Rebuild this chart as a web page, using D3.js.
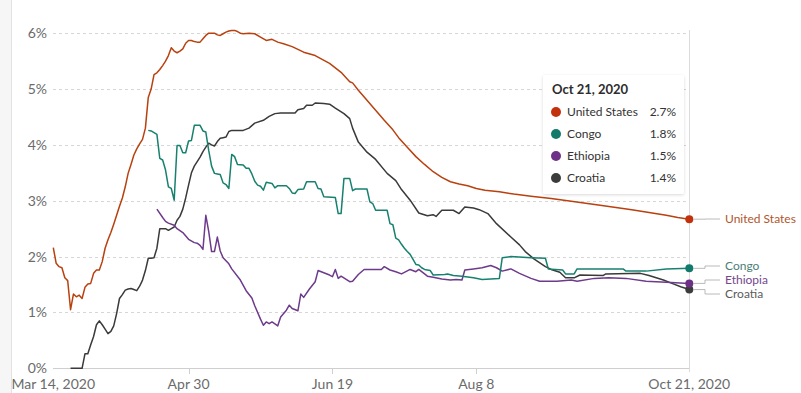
<!DOCTYPE html>
<html>
<head>
<meta charset="utf-8">
<script src="https://cdn.jsdelivr.net/npm/d3@7"></script>
<style>
  body { margin: 0; background: #fff; }
  svg { display: block; font-family: Lato, "Open Sans", sans-serif; }
</style>
</head>
<body>
<div id="chart"></div>
<script>
// Case fatality rate. x = days since Mar 14, 2020
const startDate = new Date(2020, 2, 14);
const endDate   = new Date(2020, 9, 21);

const usDays = [0,1,2,3,4,5,6,7,8,9,10,11,12,13,14,15,16,17,18,19,20,21,22,23,24,25,26,27,28,29,30,31,32,33,34,35,36,37,38,39,40,41,42,43,44,45,46,47,48,49,50,51,52,53,54,55,56,57,58,59,60,61,62,63,64,65,66,68,70,72,74,76,78,80,83,87,91,96,100,103,104,106,109,112,115,118,120,123,126,129,132,135,138,141,144,147,150,155,160,166,173,180,190,201,207,213,217,221];
const usVals = [2.16,1.88,1.82,1.80,1.62,1.57,1.05,1.33,1.28,1.31,1.25,1.45,1.51,1.52,1.70,1.76,1.76,1.91,2.15,2.30,2.43,2.58,2.74,2.90,3.05,3.25,3.49,3.65,3.82,3.93,4.02,4.10,4.30,4.85,5.00,5.26,5.29,5.35,5.42,5.50,5.60,5.74,5.68,5.65,5.68,5.72,5.82,5.87,5.87,5.85,5.84,5.84,5.90,5.96,6.00,6.00,6.00,5.97,5.96,5.99,6.02,6.04,6.05,6.05,6.03,6.00,5.99,6.00,5.99,5.93,5.87,5.89,5.84,5.81,5.76,5.66,5.60,5.46,5.30,5.13,5.11,4.98,4.80,4.62,4.44,4.27,4.13,3.96,3.79,3.65,3.52,3.42,3.34,3.30,3.27,3.22,3.19,3.16,3.12,3.08,3.04,2.99,2.92,2.84,2.79,2.74,2.70,2.67];

const congoDays = [33,34,35,36,37,38,39,40,41,42,43,44,45,46,47,48,49,50,51,52,53,54,55,56,57,58,59,60,61,62,63,64,66,67,68,69,70,71,72,73,74,76,77,78,81,82,83,84,85,87,88,91,92,93,94,98,99,100,101,103,104,105,109,110,111,112,116,117,118,119,120,121,122,123,124,125,126,127,128,129,131,132,136,137,139,142,146,149,155,156,159,166,171,172,177,178,181,182,198,199,206,213,221];
const congoVals = [4.26,4.25,4.22,4.19,3.76,3.73,3.55,3.25,3.22,3.01,3.99,3.99,3.86,3.86,4.07,4.08,4.35,4.35,4.35,4.25,4.23,3.90,3.62,3.49,3.48,3.47,3.32,3.29,3.22,3.83,3.79,3.65,3.64,3.58,3.58,3.48,3.35,3.28,3.26,3.19,3.33,3.31,3.23,3.27,3.27,3.22,3.14,3.13,3.20,3.21,3.34,3.34,3.22,3.21,3.07,3.06,2.77,2.77,3.40,3.40,3.18,3.21,3.21,2.98,2.95,2.83,2.83,2.59,2.57,2.33,2.30,2.22,2.15,2.09,2.04,1.95,1.86,1.85,1.80,1.77,1.75,1.67,1.68,1.69,1.66,1.65,1.62,1.59,1.61,1.98,2.00,1.98,1.97,1.78,1.76,1.69,1.69,1.78,1.78,1.74,1.74,1.78,1.79];

const ethDays = [36,38,39,40,42,43,45,47,49,50,51,52,53,54,55,56,57,58,59,61,62,65,67,69,70,72,73,74,75,76,78,79,81,82,83,85,86,87,89,91,92,94,96,97,98,99,100,103,104,106,108,114,115,117,119,121,124,126,127,130,132,135,138,140,142,143,146,149,152,154,156,159,162,166,169,175,180,182,188,193,199,206,213,221];
const ethVals = [2.85,2.70,2.63,2.60,2.56,2.50,2.43,2.31,2.25,2.24,2.20,2.13,2.74,2.45,2.09,2.09,2.35,2.10,1.98,1.87,1.78,1.58,1.39,1.26,1.12,0.88,0.77,0.83,0.80,0.83,0.76,0.92,1.04,1.13,1.07,1.03,1.33,1.27,1.42,1.55,1.75,1.71,1.67,1.64,1.77,1.61,1.65,1.55,1.56,1.68,1.77,1.77,1.82,1.76,1.73,1.69,1.77,1.73,1.77,1.65,1.63,1.60,1.58,1.59,1.58,1.76,1.78,1.80,1.84,1.80,1.74,1.78,1.70,1.61,1.56,1.56,1.58,1.56,1.61,1.62,1.61,1.56,1.54,1.52];

const croDays = [6,10,11,12,13,14,15,16,17,18,19,20,21,22,23,24,25,26,27,28,29,30,31,32,33,34,35,36,37,38,39,40,41,42,43,44,45,46,47,48,49,50,51,52,53,54,55,56,57,58,59,60,61,62,64,66,68,70,73,75,77,79,84,85,87,88,90,91,94,96,98,101,103,104,106,109,112,116,119,121,124,127,130,132,133,135,139,141,143,146,148,151,154,159,162,164,167,171,173,176,178,181,183,191,192,204,207,212,215,218,221];
const croVals = [0,0,0.26,0.26,0.42,0.57,0.78,0.85,0.78,0.70,0.62,0.66,0.76,0.98,1.25,1.32,1.40,1.42,1.43,1.41,1.39,1.47,1.58,1.75,1.97,1.97,1.98,2.15,2.50,2.50,2.50,2.47,2.50,2.53,2.65,2.72,2.85,3.05,3.28,3.50,3.62,3.70,3.78,3.88,3.96,4.03,4.00,3.98,4.06,4.12,4.13,4.14,4.24,4.26,4.26,4.26,4.30,4.39,4.44,4.51,4.56,4.57,4.57,4.63,4.65,4.71,4.71,4.75,4.74,4.73,4.66,4.56,4.47,4.30,4.05,3.87,3.74,3.49,3.36,3.20,3.01,2.78,2.73,2.75,2.72,2.83,2.83,2.77,2.89,2.87,2.84,2.77,2.59,2.35,2.21,2.09,1.96,1.82,1.77,1.72,1.62,1.62,1.67,1.66,1.69,1.70,1.66,1.58,1.52,1.46,1.41];

const seriesNames  = ["United States", "Congo", "Ethiopia", "Croatia"];
const latestLabels = ["2.7%", "1.8%", "1.5%", "1.4%"];
const yTicks = [0, 1, 2, 3, 4, 5, 6];
const xTickDays   = [0, 47, 97, 147, 221];
const xTickLabels = ["Mar 14, 2020", "Apr 30", "Jun 19", "Aug 8", "Oct 21, 2020"];

const lineColors  = ["#b8410f", "#17806f", "#6d3a8c", "#3a3a3a"];
const dotColors   = ["#c2310c", "#127a6a", "#6e2f86", "#3c3c3c"];
const labelColors = ["#b0562c", "#4b7e78", "#74478f", "#5b5b5b"];

const width = 801, height = 393;
const toDate = d => d3.timeDay.offset(startDate, d);

const svg = d3.select("#chart").append("svg")
    .attr("width", width).attr("height", height);

// left page edge
svg.append("rect").attr("x", 0).attr("y", 0).attr("width", 11).attr("height", height).attr("fill", "#f6f6f6");
svg.append("line").attr("x1", 11.5).attr("x2", 11.5).attr("y1", 0).attr("y2", height)
    .attr("stroke", "#e2e2e2");

const x = d3.scaleTime().domain([startDate, endDate]).range([53.3, 689.3]);
const y = d3.scaleLinear().domain([0, 6]).range([368.3, 33.2]);

// gridlines
svg.append("g").selectAll("line").data(yTicks.filter(t => t > 0)).join("line")
    .attr("x1", 53).attr("x2", 690)
    .attr("y1", d => Math.round(y(d)) + 0.5).attr("y2", d => Math.round(y(d)) + 0.5)
    .attr("stroke", "#d6d6d6").attr("stroke-dasharray", "3,3");

// y labels
svg.append("g").selectAll("text").data(yTicks).join("text")
    .attr("x", 47).attr("y", d => y(d)).attr("dy", "0.35em")
    .attr("text-anchor", "end").attr("fill", "#6b6b6b").style("font-size", "14px")
    .text(d => d + "%");

// x axis
svg.append("line").attr("x1", 53).attr("x2", 690)
    .attr("y1", Math.round(y(0)) + 0.5).attr("y2", Math.round(y(0)) + 0.5)
    .attr("stroke", "#cfcfcf");
svg.append("g").selectAll("line").data(xTickDays.slice(1, -1)).join("line")
    .attr("x1", d => Math.round(x(toDate(d))) + 0.5).attr("x2", d => Math.round(x(toDate(d))) + 0.5)
    .attr("y1", 369).attr("y2", 374).attr("stroke", "#cfcfcf");
svg.append("g").selectAll("text").data(xTickDays).join("text")
    .attr("x", d => x(toDate(d))).attr("y", 389)
    .attr("text-anchor", "middle").attr("fill", "#6b6b6b").style("font-size", "14px")
    .text((d, i) => xTickLabels[i]);

// hover line
svg.append("line").attr("x1", Math.round(x(endDate)) + 0.5).attr("x2", Math.round(x(endDate)) + 0.5)
    .attr("y1", 30).attr("y2", 372).attr("stroke", "#dcdcdc");

const series = [
    { days: usDays,    vals: usVals },
    { days: congoDays, vals: congoVals },
    { days: ethDays,   vals: ethVals },
    { days: croDays,   vals: croVals }
];

const line = d3.line().x(d => x(toDate(d[0]))).y(d => y(d[1]));

// draw back to front: Croatia, Ethiopia, Congo, US
[3, 2, 1, 0].forEach(i => {
    const pts = d3.zip(series[i].days, series[i].vals);
    svg.append("path").datum(pts)
        .attr("d", line).attr("fill", "none")
        .attr("stroke", lineColors[i]).attr("stroke-width", 1.5)
        .attr("stroke-linejoin", "round");
});

// end dots
[3, 2, 1, 0].forEach(i => {
    const s = series[i];
    svg.append("circle")
        .attr("cx", x(toDate(s.days[s.days.length - 1])))
        .attr("cy", y(s.vals[s.vals.length - 1]))
        .attr("r", 4).attr("fill", dotColors[i]);
});

// end labels with leader lines
const labelY = [219, 266, 280, 294];
series.forEach((s, i) => {
    const ey = y(s.vals[s.vals.length - 1]);
    const ex = x(toDate(s.days[s.days.length - 1]));
    svg.append("path")
        .attr("d", `M${ex + 4},${ey}H${705}V${labelY[i]}H${720}`)
        .attr("fill", "none").attr("stroke", "#a8a8a8").attr("stroke-width", 0.8);
    svg.append("text").attr("x", 725).attr("y", labelY[i]).attr("dy", "0.35em")
        .attr("fill", labelColors[i]).style("font-size", "12px")
        .text(seriesNames[i]);
});

// tooltip
const defs = svg.append("defs");
const f = defs.append("filter").attr("id", "shadow").attr("x", "-10%").attr("y", "-10%")
    .attr("width", "130%").attr("height", "130%");
f.append("feDropShadow").attr("dx", 0).attr("dy", 1).attr("stdDeviation", 1.5)
    .attr("flood-color", "#000").attr("flood-opacity", 0.15);

const tip = svg.append("g").attr("transform", "translate(543,75)");
tip.append("rect").attr("width", 141).attr("height", 119).attr("rx", 2)
    .attr("fill", "#fff").attr("filter", "url(#shadow)");
tip.append("text").attr("x", 9).attr("y", 19)
    .attr("fill", "#2d2d2d").style("font-size", "13px").style("font-weight", "bold")
    .text("Oct 21, 2020");
seriesNames.forEach((n, i) => {
    const ry = 37 + i * 22;
    tip.append("circle").attr("cx", 13).attr("cy", ry).attr("r", 5).attr("fill", dotColors[i]);
    tip.append("text").attr("x", 24).attr("y", ry).attr("dy", "0.35em")
        .attr("fill", "#333").style("font-size", "12px").text(n);
    tip.append("text").attr("x", 133).attr("y", ry).attr("dy", "0.35em")
        .attr("text-anchor", "end").attr("fill", "#333").style("font-size", "12px")
        .text(latestLabels[i]);
});
</script>
</body>
</html>
